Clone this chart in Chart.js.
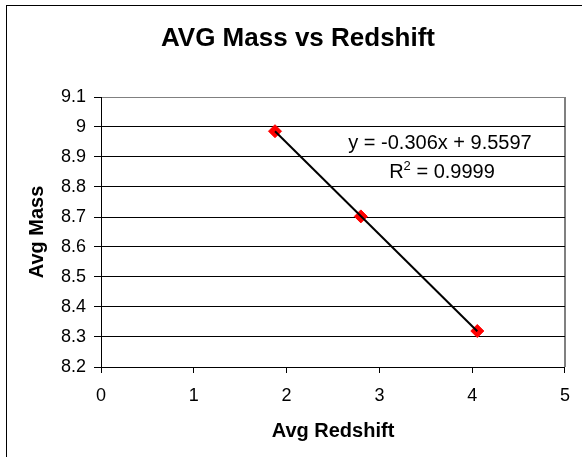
<!DOCTYPE html>
<html>
<head>
<meta charset="utf-8">
<script src="https://cdn.jsdelivr.net/npm/chart.js@4/dist/chart.umd.min.js"></script>
<style>
  html, body { margin: 0; padding: 0; background: #ffffff; }
  #c { display: block; }
</style>
</head>
<body>
<canvas id="c" width="582" height="457"></canvas>
<script>
// ---- data ----
const redshift = [1.875, 2.80, 4.055];
const avgMass = [8.986, 8.702, 8.320];
const trendX = [1.875, 4.055];
const trendY = [8.986, 8.319];
const xTickValues = [0, 1, 2, 3, 4, 5];
const yTickValues = [8.2, 8.3, 8.4, 8.5, 8.6, 8.7, 8.8, 8.9, 9.0, 9.1];
const chartTitle = "AVG Mass vs Redshift";
const xTitle = "Avg Redshift";
const yTitle = "Avg Mass";
const equationText = "y = -0.306x + 9.5597";
const r2Value = "0.9999";

const FONT = "'Liberation Sans', Arial, sans-serif";

const points = redshift.map((x, i) => ({ x: x, y: avgMass[i] }));
const trend = trendX.map((x, i) => ({ x: x, y: trendY[i] }));

const textPlugin = {
  id: 'textPlugin',
  beforeDraw(chart) {
    const ctx = chart.ctx;
    ctx.save();
    ctx.fillStyle = '#ffffff';
    ctx.fillRect(0, 0, chart.width, chart.height);
    ctx.strokeStyle = '#000000';
    ctx.lineWidth = 1;
    ctx.strokeRect(6.5, 5.5, 800, 800);
    ctx.restore();
  },
  afterDraw(chart) {
    const ctx = chart.ctx;
    const area = chart.chartArea;
    ctx.save();
    // right border of plot area
    ctx.strokeStyle = '#808080';
    ctx.lineWidth = 1;
    ctx.beginPath();
    ctx.moveTo(Math.round(area.right) + 0.5, area.top);
    ctx.lineTo(Math.round(area.right) + 0.5, area.bottom);
    ctx.stroke();
    // title
    ctx.fillStyle = '#000000';
    ctx.textBaseline = 'alphabetic';
    ctx.textAlign = 'center';
    ctx.font = "bold 26px " + FONT;
    ctx.fillText(chartTitle, 298, 46);
    // equation
    ctx.font = "20px " + FONT;
    ctx.fillText(equationText, 440, 149);
    const rW = ctx.measureText("R").width;
    const restText = " = " + r2Value;
    const restW = ctx.measureText(restText).width;
    ctx.font = "13px " + FONT;
    const supW = ctx.measureText("2").width;
    const total = rW + supW + restW;
    let x0 = 442 - total / 2;
    ctx.textAlign = 'left';
    ctx.font = "20px " + FONT;
    ctx.fillText("R", x0, 178);
    ctx.font = "13px " + FONT;
    ctx.fillText("2", x0 + rW, 170);
    ctx.font = "20px " + FONT;
    ctx.fillText(restText, x0 + rW + supW, 178);
    ctx.restore();
  }
};

new Chart(document.getElementById('c'), {
  type: 'scatter',
  data: {
    datasets: [
      {
        label: 'Linear trend',
        data: trend,
        showLine: true,
        borderColor: '#000000',
        borderWidth: 2,
        pointRadius: 0,
        pointHoverRadius: 0,
        fill: false
      },
      {
        label: 'Avg Mass',
        data: points,
        showLine: false,
        pointStyle: 'rectRot',
        pointRadius: 6.5,
        pointHoverRadius: 6.5,
        backgroundColor: '#ff0000',
        borderColor: '#ff0000',
        borderWidth: 1
      }
    ]
  },
  options: {
    responsive: false,
    animation: false,
    devicePixelRatio: 1,
    layout: { padding: { left: 0, top: 97, right: 13, bottom: 0 } },
    plugins: {
      legend: { display: false },
      title: { display: false },
      tooltip: { enabled: false }
    },
    scales: {
      x: {
        type: 'linear',
        min: 0,
        max: 5,
        afterBuildTicks: (s) => { s.ticks = xTickValues.map(v => ({ value: v })); },
        afterFit: (s) => { s.height = 90; },
        ticks: {
          color: '#000000',
          font: { family: FONT, size: 18 },
          padding: 12,
          callback: (v) => String(v)
        },
        grid: {
          drawOnChartArea: true,
          color: (c) => (c.tick && c.tick.value === 5) ? '#808080' : 'rgba(0,0,0,0)',
          tickColor: '#000000',
          tickLength: 6
        },
        border: { color: '#000000', width: 1 },
        title: {
          display: true,
          text: xTitle,
          color: '#000000',
          font: { family: FONT, size: 20, weight: 'bold' },
          padding: { top: 0, bottom: 14 }
        }
      },
      y: {
        type: 'linear',
        min: 8.2,
        max: 9.1,
        afterBuildTicks: (s) => { s.ticks = yTickValues.map(v => ({ value: v })); },
        afterFit: (s) => { s.width = 101; },
        ticks: {
          color: '#000000',
          font: { family: FONT, size: 18 },
          padding: 8,
          callback: (v) => String(Number(v.toFixed(1)))
        },
        grid: {
          drawOnChartArea: true,
          color: (c) => (c.tick && Math.abs(c.tick.value - 9.1) < 1e-6) ? '#808080' : '#000000',
          tickColor: '#000000',
          tickLength: 7
        },
        border: { color: '#000000', width: 1 },
        title: {
          display: true,
          text: yTitle,
          color: '#000000',
          font: { family: FONT, size: 20, weight: 'bold' },
          padding: { top: 25, bottom: 0 }
        }
      }
    }
  },
  plugins: [textPlugin]
});
</script>
</body>
</html>
